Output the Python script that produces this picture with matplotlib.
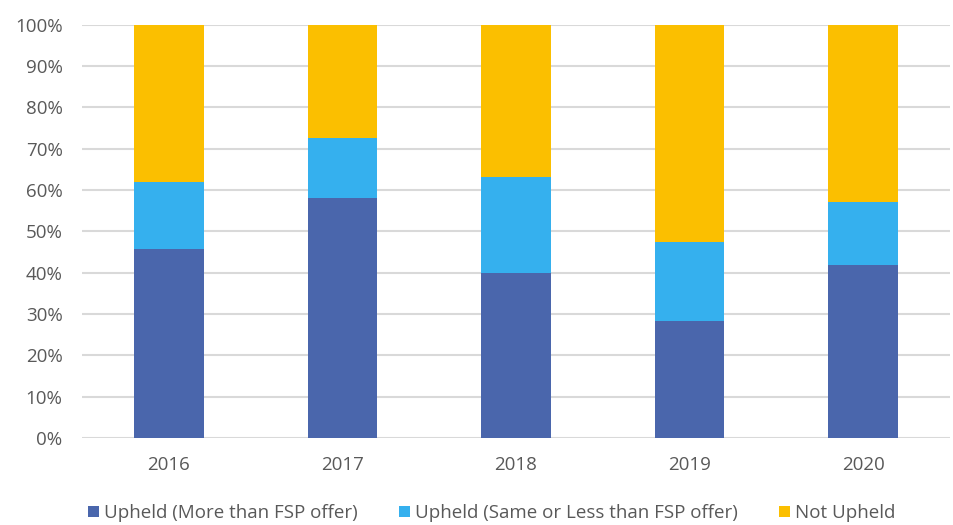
import matplotlib
matplotlib.use("Agg")
import matplotlib.pyplot as plt
import numpy as np
from matplotlib.ticker import FuncFormatter

years = ["2016", "2017", "2018", "2019", "2020"]
upheld_more = [45.8, 58.1, 39.8, 28.2, 41.8]
upheld_same = [16.2, 14.4, 23.2, 19.1, 15.2]
not_upheld = [38.0, 27.5, 37.0, 52.7, 43.0]
series_names = ["Upheld (More than FSP offer)", "Upheld (Same or Less than FSP offer)", "Not Upheld"]
colors = ["#4A66AC", "#35B0EE", "#FBBF00"]

plt.rcParams['font.family'] = ['Open Sans', 'DejaVu Sans']
fig = plt.figure(figsize=(9.54, 5.25), dpi=100)
ax = fig.add_axes([82/954, 1 - 438/525, (950-82)/954, (438-24.5)/525])

x = np.arange(len(years))
bottom = np.zeros(len(years))
handles = []
for vals, name, c in zip([upheld_more, upheld_same, not_upheld], series_names, colors):
    b = ax.bar(x, vals, width=0.4, bottom=bottom, color=c, label=name, zorder=3)
    bottom = bottom + np.array(vals)
    handles.append(b)

ax.set_xlim(-0.5, len(years) - 0.5)
ax.set_ylim(0, 100)
ax.set_yticks(np.arange(0, 101, 10))
ax.yaxis.set_major_formatter(FuncFormatter(lambda v, p: f"{int(v)}%"))
ax.set_xticks(x)
ax.set_xticklabels(years)
ax.grid(axis='y', color='#D9D9D9', linewidth=1.5, zorder=0)
for s in ax.spines.values():
    s.set_visible(False)
ax.tick_params(axis='both', length=0, labelsize=13.5, colors='#595959')
ax.tick_params(axis='x', pad=13)
ax.tick_params(axis='y', pad=14)

fig.legend(handles=handles, labels=series_names, loc='center', bbox_to_anchor=(492/954, 1 - 513/525),
           ncol=3, frameon=False, fontsize=13.5, handlelength=0.55, handleheight=0.55,
           columnspacing=2.2, handletextpad=0.3, labelcolor='#595959')

fig.savefig("out.png", dpi=100)
